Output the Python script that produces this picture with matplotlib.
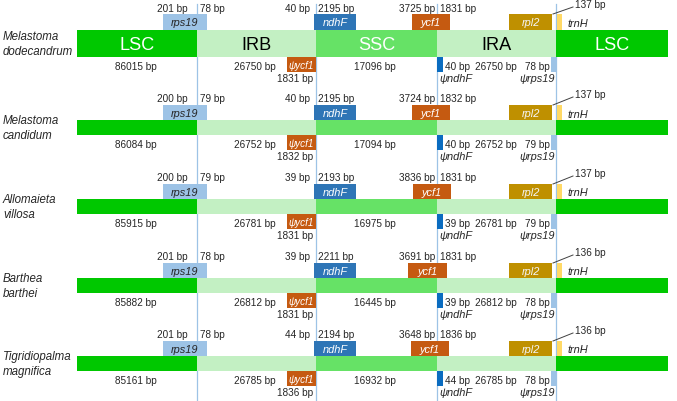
import matplotlib.pyplot as plt
from matplotlib import font_manager

# Data ------------------------------
species = [("Melastoma", "dodecandrum"),
           ("Melastoma", "candidum"),
           ("Allomaieta", "villosa"),
           ("Barthea", "barthei"),
           ("Tigridiopalma", "magnifica")]
lsc_len = [86015, 86084, 85915, 85882, 85161]
ir_len = [26750, 26752, 26781, 26812, 26785]
ssc_len = [17096, 17094, 16975, 16445, 16932]
rps19_lsc = [201, 200, 200, 201, 201]
rps19_ir = [78, 79, 79, 78, 78]
ndhF_ir = [40, 40, 39, 39, 44]
ndhF_ssc = [2195, 2195, 2193, 2211, 2194]
ycf1_ssc = [3725, 3724, 3836, 3691, 3648]
ycf1_ir = [1831, 1832, 1831, 1831, 1836]
trnH_gap = [137, 137, 137, 136, 136]
region_names = ["LSC", "IRB", "SSC", "IRA", "LSC"]

# Layout (pixel space) ---------------------------
W, H = 677, 402
bar_left, bar_right = 77, 668
junctions = [197, 316, 437, 556]
row_top = [31, 121, 200, 279, 357]
row_h = [27, 15, 15, 15, 15]
ycf1_box = [(412, 450), (412, 450), (413, 451), (408, 447), (411, 449)]

C_LSC = "#00c800"
C_IR = "#c3f0c3"
C_SSC = "#66e266"
C_RPS = "#9dc3e6"
C_NDHF = "#2e75b6"
C_PNDHF = "#0a6cc0"
C_YCF1 = "#c55a11"
C_RPL2 = "#bf9000"
C_TRNH = "#ffd966"
C_LINE = "#9dc3e6"
TXT = "#262626"

# the reference text is narrow; use a narrow face if there is one
names = {f.name for f in font_manager.fontManager.ttflist}
if "Liberation Sans Narrow" in names:
    FONT = ["Liberation Sans Narrow", "Liberation Sans", "DejaVu Sans"]
    fs = 1.0
    S_SP = 9.8
else:
    FONT = ["Liberation Sans", "DejaVu Sans"]
    fs = 0.9
    S_SP = 8.3
plt.rcParams["font.family"] = FONT

S_NUM = 8.0 * fs
S_GENE = 8.8 * fs
S_REG = 14.5 * fs

fig = plt.figure(figsize=(W / 100, H / 100), dpi=100)
ax = fig.add_axes([0, 0, 1, 1])
ax.set_xlim(0, W)
ax.set_ylim(H, 0)
ax.axis("off")

# junction lines
for jx in junctions:
    ax.plot([jx, jx], [5, H], color=C_LINE, lw=0.9, zorder=0)


def box(x0, x1, y0, h, color, z=2):
    ax.barh(y0 + h / 2, x1 - x0, left=x0, height=h, color=color, lw=0, zorder=z)


def lbl(x, y, s, ha="center", size=S_NUM, color=TXT, style="normal"):
    ax.text(x, y, s, ha=ha, va="center", fontsize=size, color=color,
            style=style, zorder=5)


for i in range(len(species)):
    top = row_top[i]
    h = row_h[i]
    bot = top + h
    mid = top + h / 2
    edges = [bar_left] + junctions + [bar_right]
    colors = [C_LSC, C_IR, C_SSC, C_IR, C_LSC]
    for k in range(5):
        box(edges[k], edges[k + 1], top, h, colors[k], z=1)
    if i == 0:
        for k, name in enumerate(region_names):
            c = "white" if name in ("LSC", "SSC") else "black"
            ax.text((edges[k] + edges[k + 1]) / 2, mid + 1, name, ha="center",
                    va="center", fontsize=S_REG, color=c, zorder=5)

    # species name
    ax.text(3, mid - 7.5, species[i][0], ha="left", va="center", fontsize=S_SP,
            style="italic", color=TXT)
    ax.text(3, mid + 7.5, species[i][1], ha="left", va="center", fontsize=S_SP,
            style="italic", color=TXT)

    # genes above
    gh = 16 if i == 0 else 15
    gy = top - gh
    gc = gy + gh / 2 + 0.5
    box(163, 207, gy, gh, C_RPS)
    lbl(185, gc, "rps19", size=S_GENE, style="italic")
    box(314, 356, gy, gh, C_NDHF)
    lbl(335, gc, "ndhF", size=S_GENE, color="white", style="italic")
    yx0, yx1 = ycf1_box[i]
    box(yx0, yx1, gy, gh, C_YCF1)
    lbl((yx0 + yx1) / 2, gc, "ycf1", size=S_GENE, color="white", style="italic")
    box(509, 552, gy, gh, C_RPL2)
    lbl(530.5, gc, "rpl2", size=S_GENE, color="#f5f5f5", style="italic")
    box(557, 562, gy, gh, C_TRNH)
    lbl(567, gc + 0.5, "trnH", ha="left", size=S_GENE, style="italic")

    # genes below
    bh = 15
    box(287, 316, bot, bh, C_YCF1)
    lbl(301.5, bot + bh / 2 + 0.5, "ψycf1", size=S_GENE * 0.9, color="white",
        style="italic")
    box(437, 443, bot, bh, C_PNDHF)
    box(551, 556, bot, bh, C_RPS)

    # length labels above
    ty = top - 22
    lbl(188, ty, f"{rps19_lsc[i]} bp", ha="right")
    lbl(200, ty, f"{rps19_ir[i]} bp", ha="left")
    lbl(310, ty, f"{ndhF_ir[i]} bp", ha="right")
    lbl(318, ty, f"{ndhF_ssc[i]} bp", ha="left")
    lbl(435, ty, f"{ycf1_ssc[i]} bp", ha="right")
    lbl(440, ty, f"{ycf1_ir[i]} bp", ha="left")
    ax.plot([553, 573], [gy, top - 23], color="#404040", lw=0.7, zorder=4)
    lbl(575, top - 25.5, f"{trnH_gap[i]} bp", ha="left")

    # length labels below
    by = bot + 9
    lbl(136, by, f"{lsc_len[i]} bp")
    lbl(255, by, f"{ir_len[i]} bp")
    lbl(313, bot + 21.5, f"{ycf1_ir[i]} bp", ha="right")
    lbl(375, by, f"{ssc_len[i]} bp")
    lbl(445, by, f"{ndhF_ir[i]} bp", ha="left")
    lbl(496, by, f"{ir_len[i]} bp")
    lbl(550, by, f"{rps19_ir[i]} bp", ha="right")
    lbl(439, bot + 21.5, "ψndhF", ha="left", size=S_GENE, style="italic")
    lbl(555, bot + 21.5, "ψrps19", ha="right", size=S_GENE, style="italic")

fig.savefig("out.png", dpi=100)
